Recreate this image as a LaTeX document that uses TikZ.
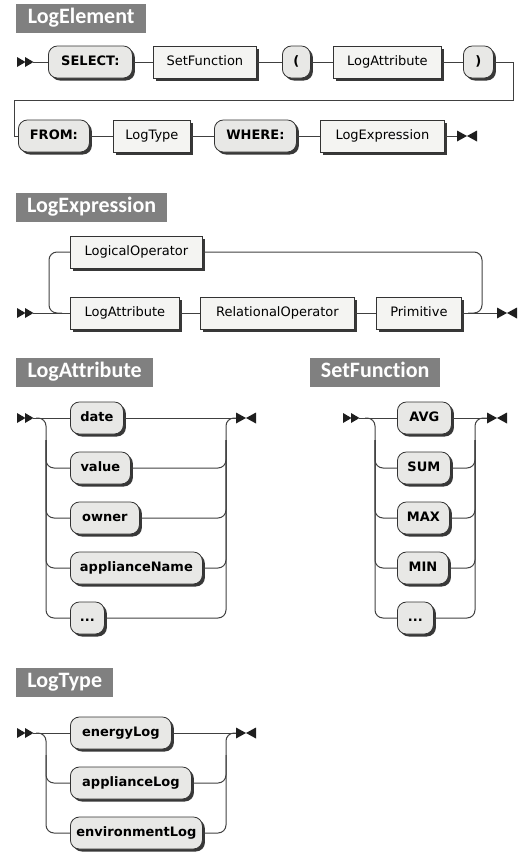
\documentclass[tikz,border=0pt]{standalone}
\usepackage{fontspec}
\newfontfamily\rrfont{DejaVu Sans}
\newfontfamily\ttlfont{Carlito}[Ligatures=NoCommon]
\usetikzlibrary{shadows}
\definecolor{linec}{HTML}{404040}
\definecolor{markc}{HTML}{1E1E1E}
\definecolor{termfill}{HTML}{E8E8E6}
\definecolor{ntfill}{HTML}{F4F4F2}
\definecolor{boxline}{HTML}{333333}
\definecolor{shadowc}{HTML}{383838}
\definecolor{titlec}{HTML}{808080}

\tikzset{
  startmark/.pic={
    \fill[markc] (0,-5) -- (8.5,0) -- (0,5) -- cycle
                 (8,-5) -- (16.5,0) -- (8,5) -- cycle;
    \coordinate (-out) at (16,0);
  },
  endmark/.pic={
    \fill[markc] (0,-5.5) -- (10,0) -- (0,5.5) -- cycle
                 (20,-5.5) -- (10,0) -- (20,5.5) -- cycle;
    \coordinate (-in) at (0,0);
  }
}

\begin{document}
\begin{tikzpicture}[x=1pt,y=-1pt,
  box/.style={draw=boxline, line width=0.8pt, minimum height=32pt, inner sep=0pt,
    anchor=west, text height=9.5pt, text depth=2.5pt,
    general shadow={fill=shadowc, shadow xshift=2.5pt, shadow yshift=-2.5pt}},
  term/.style={box, rounded corners=9pt, fill=termfill,
    font=\rrfont\bfseries\fontsize{13}{15}\selectfont},
  nterm/.style={box, fill=ntfill, font=\rrfont\fontsize{13}{15}\selectfont},
  title/.style={anchor=north west, fill=titlec, text=white, inner sep=0pt,
    minimum height=29pt, text height=14.5pt, text depth=4.5pt,
    font=\ttlfont\bfseries\fontsize{22}{22}\selectfont},
  rail/.style={draw=linec, line width=1pt},
  branch/.style={rail, rounded corners=8pt}
]
\useasboundingbox (0,0) rectangle (523,852);

%% ---------------- LogElement ----------------
\node[title, minimum width=130pt] (tLE) at (16,4) {LogElement};
\pic (les) at (17,62) {startmark};
\node[term,  minimum width=84pt]  (le1) at (48,62)  {SELECT:};
\node[nterm, minimum width=103pt] (le2) at (153,62) {SetFunction};
\node[term,  minimum width=28pt]  (le3) at (282,62) {(};
\node[nterm, minimum width=108pt] (le4) at (333,62) {LogAttribute};
\node[term,  minimum width=30pt]  (le5) at (463,62) {)};
\node[term,  minimum width=71pt]  (le6) at (18,136) {FROM:};
\node[nterm, minimum width=77pt]  (le7) at (113,136) {LogType};
\node[term,  minimum width=82pt]  (le8) at (214,136) {WHERE:};
\node[nterm, minimum width=124pt] (le9) at (320,136) {LogExpression};
\pic (lee) at (457,136) {endmark};
\coordinate (leR) at (513,100);
\coordinate (leL) at (14,100);
\draw[rail] (les-out) -- (le1.west)
            (le1.east) -- (le2.west)
            (le2.east) -- (le3.west)
            (le3.east) -- (le4.west)
            (le4.east) -- (le5.west);
\draw[rail] (le5.east) -| (leR) -- (leL) |- (le6.west);
\draw[rail] (le6.east) -- (le7.west)
            (le7.east) -- (le8.west)
            (le8.east) -- (le9.west)
            (le9.east) -- (lee-in);

%% ---------------- LogExpression ----------------
\node[title, minimum width=151pt] (tLX) at (16,193) {LogExpression};
\pic (lxs) at (17,313) {startmark};
\node[nterm, minimum width=132pt] (lx1) at (70,252)  {LogicalOperator};
\node[nterm, minimum width=109pt] (lx2) at (70,313)  {LogAttribute};
\node[nterm, minimum width=154pt] (lx3) at (200,313) {RelationalOperator};
\node[nterm, minimum width=85pt]  (lx4) at (376,313) {Primitive};
\pic (lxe) at (497,313) {endmark};
\coordinate (lxL)  at (49,313);
\coordinate (lxLj) at (62,313);
\coordinate (lxR)  at (482,313);
\coordinate (lxRj) at (468,313);
\draw[rail] (lxs-out) -- (lx2.west)
            (lx2.east) -- (lx3.west)
            (lx3.east) -- (lx4.west)
            (lx4.east) -- (lxe-in);
\draw[branch] (lx1.west) -| (lxL) -- (lxLj);
\draw[branch] (lx1.east) -| (lxR) -- (lxRj);

%% ---------------- LogAttribute ----------------
\node[title, minimum width=137pt] (tLA) at (16,358) {LogAttribute};
\pic (las) at (17,418) {startmark};
\node[term, minimum width=53pt]  (la1) at (70,418) {date};
\node[term, minimum width=60pt]  (la2) at (70,468) {value};
\node[term, minimum width=69pt]  (la3) at (70,518) {owner};
\node[term, minimum width=132pt] (la4) at (70,568) {applianceName};
\node[term, minimum width=34pt]  (la5) at (70,618) {...};
\pic (lae) at (236,418) {endmark};
\coordinate (laJ)  at (36,418);
\coordinate (laLb) at (46,618);
\coordinate (laL)  at (46,440);
\coordinate (laR)  at (226,418);
\coordinate (laRm) at (226,440);
\draw[rail] (las-out) -- (la1.west) (la1.east) -- (lae-in);
\draw[branch] (laJ) -| (laLb) -- (la5.west);
\draw[branch] (la2.west) -| (laL);
\draw[branch] (la3.west) -| (laL);
\draw[branch] (la4.west) -| (laL);
\draw[branch] (la5.east) -| (laR) -- (lae-in);
\draw[branch] (la2.east) -| (laRm);
\draw[branch] (la3.east) -| (laRm);
\draw[branch] (la4.east) -| (laRm);

%% ---------------- SetFunction ----------------
\node[title, minimum width=130pt] (tSF) at (310,358) {SetFunction};
\pic (sfs) at (343,418) {startmark};
\node[term, minimum width=54pt] (sf1) at (397,418) {AVG};
\node[term, minimum width=53pt] (sf2) at (397,468) {SUM};
\node[term, minimum width=52pt] (sf3) at (397,518) {MAX};
\node[term, minimum width=51pt] (sf4) at (397,568) {MIN};
\node[term, minimum width=36pt] (sf5) at (397,618) {...};
\pic (sfe) at (487,418) {endmark};
\coordinate (sfJ)  at (365,418);
\coordinate (sfLb) at (375,618);
\coordinate (sfL)  at (375,440);
\coordinate (sfR)  at (475,418);
\coordinate (sfRm) at (475,440);
\draw[rail] (sfs-out) -- (sf1.west) (sf1.east) -- (sfe-in);
\draw[branch] (sfJ) -| (sfLb) -- (sf5.west);
\draw[branch] (sf2.west) -| (sfL);
\draw[branch] (sf3.west) -| (sfL);
\draw[branch] (sf4.west) -| (sfL);
\draw[branch] (sf5.east) -| (sfR) -- (sfe-in);
\draw[branch] (sf2.east) -| (sfRm);
\draw[branch] (sf3.east) -| (sfRm);
\draw[branch] (sf4.east) -| (sfRm);

%% ---------------- LogType ----------------
\node[title, minimum width=97pt] (tLT) at (16,668) {LogType};
\pic (lts) at (17,733) {startmark};
\node[term, minimum width=101pt] (lt1) at (70,733) {energyLog};
\node[term, minimum width=121pt] (lt2) at (70,783) {applianceLog};
\node[term, minimum width=132pt] (lt3) at (70,833) {environmentLog};
\pic (lte) at (236,733) {endmark};
\coordinate (ltJ)  at (36,733);
\coordinate (ltLb) at (46,833);
\coordinate (ltL)  at (46,755);
\coordinate (ltR)  at (226,733);
\coordinate (ltRm) at (226,755);
\draw[rail] (lts-out) -- (lt1.west) (lt1.east) -- (lte-in);
\draw[branch] (ltJ) -| (ltLb) -- (lt3.west);
\draw[branch] (lt2.west) -| (ltL);
\draw[branch] (lt3.east) -| (ltR) -- (lte-in);
\draw[branch] (lt2.east) -| (ltRm);
\end{tikzpicture}
\end{document}
